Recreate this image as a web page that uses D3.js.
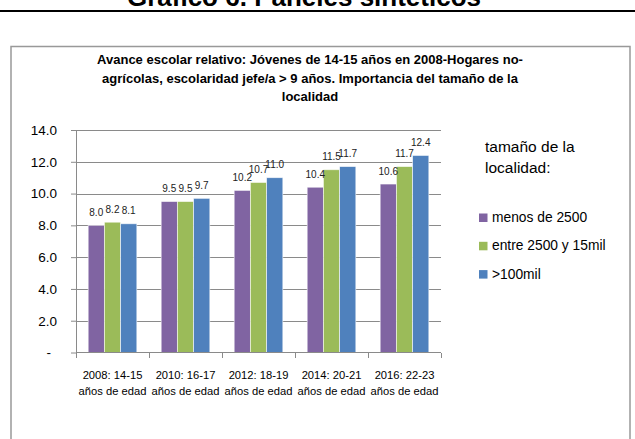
<!DOCTYPE html>
<html>
<head>
<meta charset="utf-8">
<script src="https://cdn.jsdelivr.net/npm/d3@7"></script>
<style>
  body { margin: 0; background: #fff; }
  svg { display: block; font-family: "Liberation Sans", Arial, sans-serif; }
  .yAxis .domain, .yAxis .tick line { stroke: #8a8a8a; }
  .grid { stroke: #8a8a8a; shape-rendering: crispEdges; }
</style>
</head>
<body>
<script>
"use strict";

// chart data
var categoryLine1 = ["2008: 14-15", "2010: 16-17", "2012: 18-19", "2014: 20-21", "2016: 22-23"];
var categoryLine2 = ["años de edad", "años de edad", "años de edad", "años de edad", "años de edad"];
var seriesNames = ["menos de 2500", "entre 2500 y 15mil", ">100mil"];
var seriesColors = ["#8064A2", "#9BBB59", "#4F81BD"];
var menos2500 = [8.0, 9.5, 10.2, 10.4, 10.6];
var entre2500y15mil = [8.2, 9.5, 10.7, 11.5, 11.7];
var mas100mil = [8.1, 9.7, 11.0, 11.7, 12.4];
var yTicks = [0, 2, 4, 6, 8, 10, 12, 14];

var pageTitle = "Gráfico 6. Paneles sintéticos";
var chartTitle = [
  "Avance escolar relativo: Jóvenes de 14-15 años en 2008-Hogares no-",
  "agrícolas, escolaridad jefe/a > 9 años. Importancia del tamaño de la",
  "localidad"
];
var legendTitle = ["tamaño de la", "localidad:"];

var seriesValues = [menos2500, entre2500y15mil, mas100mil];

var width = 635, height = 439;
var plot = { left: 76, right: 441, top: 130, bottom: 352.5 };

var svg = d3.select('body').append('svg')
  .attr('width', width)
  .attr('height', height);

// page heading, cut off at the top like the source
svg.append('text')
  .attr('x', 304)
  .attr('y', 5.5)
  .attr('text-anchor', 'middle')
  .style('font-size', '26px')
  .style('font-weight', 'bold')
  .text(pageTitle);

svg.append('line')
  .attr('x1', 0).attr('x2', width)
  .attr('y1', 11).attr('y2', 11)
  .attr('stroke', '#000')
  .attr('stroke-width', 2);

// chart frame
svg.append('rect')
  .attr('x', 11)
  .attr('y', 46.5)
  .attr('width', 619)
  .attr('height', 420)
  .attr('fill', '#fff')
  .attr('stroke', '#999')
  .attr('stroke-width', 1.5);

svg.append('g')
  .attr('class', 'chartTitle')
  .selectAll('text')
  .data(chartTitle)
  .enter().append('text')
  .attr('x', 310)
  .attr('y', function (d, i) { return 64 + i * 18.5; })
  .attr('text-anchor', 'middle')
  .style('font-size', '13px')
  .style('font-weight', 'bold')
  .text(function (d) { return d; });

var x0 = d3.scaleBand()
  .domain(categoryLine1)
  .range([plot.left, plot.right]);

var x1 = d3.scaleBand()
  .domain(d3.range(seriesNames.length))
  .range([0, x0.bandwidth()])
  .paddingOuter(0.75);

var y = d3.scaleLinear()
  .domain([0, 14])
  .range([plot.bottom, plot.top]);

// y axis with grid
var yAxis = d3.axisLeft(y)
  .tickValues(yTicks)
  .tickSize(5)
  .tickSizeOuter(0)
  .tickPadding(14)
  .tickFormat(function (d) { return d === 0 ? "-" : d.toFixed(1); });

var yDrawn = svg.append('g')
  .attr('class', 'yAxis')
  .attr('transform', 'translate(' + plot.left + ',0)')
  .call(yAxis);

yDrawn.selectAll('.tick text')
  .style('font-size', '13.5px')
  .style('font-family', '"Liberation Sans", Arial, sans-serif')
  .attr('fill', '#000')
  .attr('dx', function (d) { return d === 0 ? -6 : 0; });

yDrawn.selectAll('.tick').filter(function (d) { return d > 0; })
  .append('line')
  .attr('class', 'grid')
  .attr('x1', 0)
  .attr('x2', plot.right - plot.left);

// bars
var groups = svg.append('g')
  .attr('class', 'bars')
  .selectAll('g')
  .data(categoryLine1)
  .enter().append('g')
  .attr('transform', function (d) { return 'translate(' + x0(d) + ',0)'; });

groups.selectAll('rect')
  .data(function (d, ci) {
    return seriesValues.map(function (vals, si) { return { s: si, v: vals[ci] }; });
  })
  .enter().append('rect')
  .attr('x', function (d) { return x1(d.s); })
  .attr('width', x1.bandwidth())
  .attr('y', function (d) { return y(d.v); })
  .attr('height', function (d) { return y(0) - y(d.v); })
  .attr('fill', function (d) { return seriesColors[d.s]; })
  .attr('stroke', '#fff')
  .attr('stroke-opacity', 0.7)
  .attr('stroke-width', 0.8);

// data labels
groups.selectAll('text')
  .data(function (d, ci) {
    return seriesValues.map(function (vals, si) { return { s: si, v: vals[ci] }; });
  })
  .enter().append('text')
  .attr('x', function (d) { return x1(d.s) + x1.bandwidth() / 2; })
  .attr('y', function (d) { return y(d.v) - 9.5; })
  .attr('text-anchor', 'middle')
  .style('font-size', '10px')
  .attr('fill', '#222')
  .text(function (d) { return d.v.toFixed(1); });

// x axis line and boundary ticks
var bounds = categoryLine1.map(function (c) { return x0(c); }).concat([x0.range()[1]]);

svg.append('line')
  .attr('class', 'grid')
  .attr('x1', plot.left).attr('x2', plot.right)
  .attr('y1', y(0)).attr('y2', y(0));

svg.append('g')
  .selectAll('line')
  .data(bounds)
  .enter().append('line')
  .attr('class', 'grid')
  .attr('x1', function (d) { return d; })
  .attr('x2', function (d) { return d; })
  .attr('y1', y(0))
  .attr('y2', y(0) + 5);

var xLabels = svg.append('g')
  .attr('class', 'xLabels')
  .selectAll('text')
  .data(categoryLine1)
  .enter().append('text')
  .attr('text-anchor', 'middle')
  .style('font-size', '11.2px')
  .attr('transform', function (d) { return 'translate(' + (x0(d) + x0.bandwidth() / 2) + ',0)'; });

xLabels.append('tspan')
  .attr('x', 0)
  .attr('y', 379)
  .text(function (d) { return d; });

xLabels.append('tspan')
  .attr('x', 0)
  .attr('y', 395)
  .text(function (d, i) { return categoryLine2[i]; });

// legend
var legend = svg.append('g')
  .attr('class', 'legend');

legend.selectAll('.ltitle')
  .data(legendTitle)
  .enter().append('text')
  .attr('class', 'ltitle')
  .attr('x', 485)
  .attr('y', function (d, i) { return 152 + i * 21; })
  .style('font-size', '15.5px')
  .text(function (d) { return d; });

var items = legend.selectAll('.item')
  .data(seriesNames)
  .enter().append('g')
  .attr('class', 'item')
  .attr('transform', function (d, i) { return 'translate(479,' + (213.5 + i * 28.3) + ')'; });

items.append('rect')
  .attr('width', 8.5)
  .attr('height', 8.5)
  .attr('fill', function (d, i) { return seriesColors[i]; });

items.append('text')
  .attr('x', 13)
  .attr('y', 8.5)
  .style('font-size', '13.8px')
  .text(function (d) { return d; });
</script>
</body>
</html>
